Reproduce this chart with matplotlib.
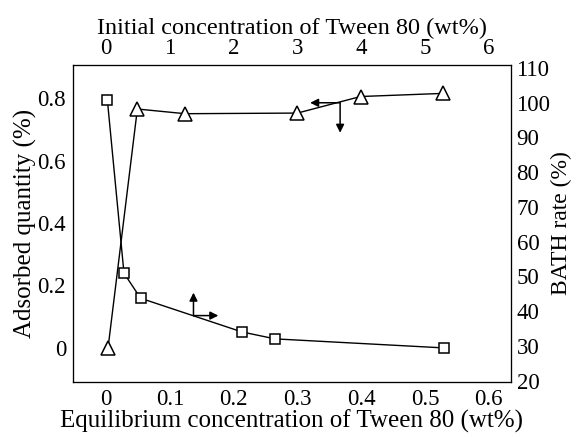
import matplotlib.pyplot as plt

plt.rcParams['font.family'] = ['Liberation Serif', 'DejaVu Serif']
plt.rcParams['font.size'] = 16.5

# Adsorbed quantity vs equilibrium concentration (bottom / left axes)
eq_conc = [0.003, 0.049, 0.124, 0.300, 0.399, 0.528]
adsorbed = [0.0, 0.765, 0.750, 0.752, 0.805, 0.815]

# BATH rate vs initial concentration (top / right axes)
init_conc = [0.02, 0.28, 0.54, 2.13, 2.65, 5.30]
bath_rate = [100.6, 50.9, 43.7, 34.0, 32.0, 29.4]

bottom_ticks = [0, 0.1, 0.2, 0.3, 0.4, 0.5, 0.6]
bottom_labels = ['0', '0.1', '0.2', '0.3', '0.4', '0.5', '0.6']
left_ticks = [0, 0.2, 0.4, 0.6, 0.8]
left_labels = ['0', '0.2', '0.4', '0.6', '0.8']
top_ticks = [0, 1, 2, 3, 4, 5, 6]
right_ticks = [20, 30, 40, 50, 60, 70, 80, 90, 100, 110]

fig = plt.figure(figsize=(5.76, 4.37), dpi=100)
ax = fig.add_axes([0.1267, 0.1259, 0.7604, 0.7254])
ax2 = ax.twinx()
ax3 = ax2.twiny()

ax.plot(eq_conc, adsorbed, color='black', lw=1.0, marker='^', ms=10,
        mfc='white', mec='black', mew=1.1, zorder=3)
ax3.plot(init_conc, bath_rate, color='black', lw=1.0, marker='s', ms=7,
         mfc='white', mec='black', mew=1.1, zorder=3)

ax.set_xlim(-0.052, 0.635)
ax.set_ylim(-0.109, 0.906)
ax3.set_xlim(-0.52, 6.35)
ax2.set_ylim(19.6, 110.8)

ax.set_xticks(bottom_ticks)
ax.set_xticklabels(bottom_labels)
ax.set_yticks(left_ticks)
ax.set_yticklabels(left_labels)
ax3.set_xticks(top_ticks)
ax2.set_yticks(right_ticks)

ax.tick_params(axis='x', length=0, pad=5)
ax.tick_params(axis='y', length=0, pad=5)
ax2.tick_params(axis='y', length=0, pad=4)
ax3.tick_params(axis='x', length=0, pad=4)

ax.set_xlabel('Equilibrium concentration of Tween 80 (wt%)', fontsize=18, labelpad=0)
ax.set_ylabel('Adsorbed quantity (%)', fontsize=18, labelpad=0)
ax3.set_xlabel('Initial concentration of Tween 80 (wt%)', fontsize=17.5, labelpad=3)
ax2.set_ylabel('BATH rate (%)', fontsize=17, labelpad=0)

arrow = dict(arrowstyle='-|>', color='black', lw=1.1, mutation_scale=12,
             shrinkA=0, shrinkB=0)

# arrows pointing to the left / bottom axes for the triangle series
ax.annotate('', xy=(0.367 - 0.047, 0.785), xytext=(0.367, 0.785), arrowprops=arrow)
ax.annotate('', xy=(0.367, 0.785 - 0.096), xytext=(0.367, 0.785), arrowprops=arrow)

# arrows pointing to the top / right axes for the square series
ax3.annotate('', xy=(1.37 + 0.39, 38.7), xytext=(1.37, 38.7), arrowprops=arrow)
ax3.annotate('', xy=(1.37, 38.7 + 6.6), xytext=(1.37, 38.7), arrowprops=arrow)

fig.savefig('out.png', dpi=100)
